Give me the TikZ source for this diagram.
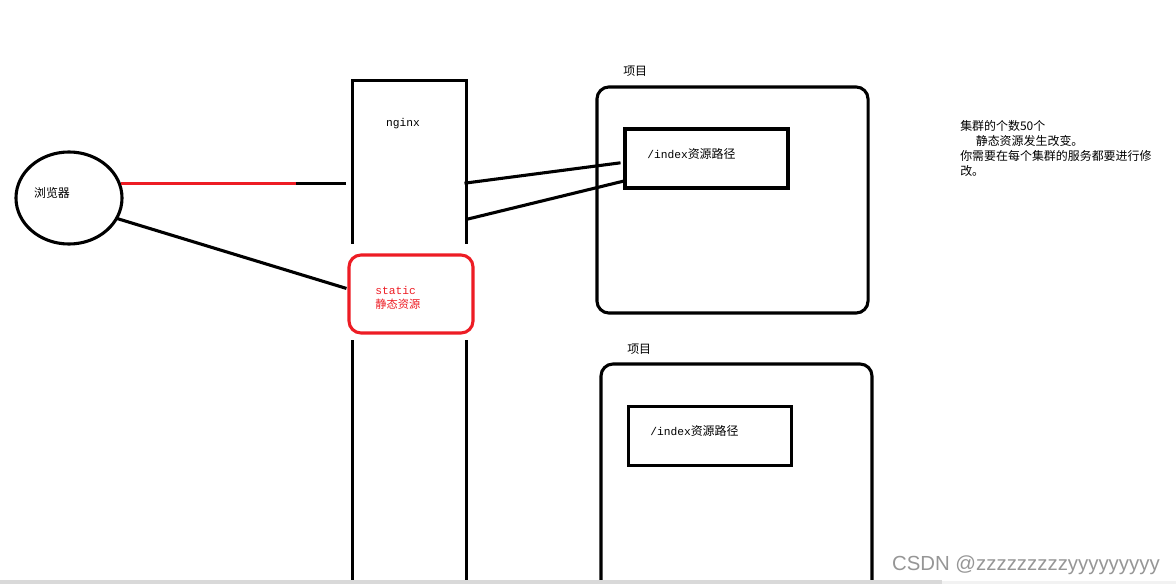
\documentclass[tikz,border=0pt]{standalone}
\usepackage{fontspec}
\setmainfont{Noto Sans CJK SC}
\setmonofont{Liberation Mono}
\newfontfamily\wmfont{Liberation Sans}
\usepackage{tikz}
\usetikzlibrary{shapes.geometric}
\definecolor{SketchRed}{RGB}{237,28,36}
\definecolor{MarkGray}{RGB}{150,150,150}

\begin{document}
\begin{tikzpicture}[x=0.025cm, y=-0.025cm,
  wire/.style={line width=2.2pt, black, line cap=rect},
  redwire/.style={line width=2.2pt, SketchRed},
  label/.style={font=\fontsize{8.5}{10.6}\selectfont, inner sep=0pt},
  codelabel/.style={font=\ttfamily\fontsize{8}{10}\selectfont, inner sep=0pt},
  projbox/.style={draw, line width=2.2pt, rounded corners=0.3cm, minimum width=6.775cm, minimum height=5.65cm},
  pathbox/.style={draw, line width=2.4pt, minimum width=4.075cm, minimum height=1.475cm},
  staticbox/.style={draw=SketchRed, line width=2.2pt, rounded corners=0.3cm, minimum width=3.1cm, minimum height=1.95cm}
]
\useasboundingbox (0,0) rectangle (1176,584);

% Browser (left)
\node[ellipse, draw, line width=2.2pt, minimum width=2.65cm, minimum height=2.3cm] (browser) at (69,198) {};
\node[label] (browsertext) at (52,193) {浏览器};

% nginx column
\draw[wire] (352.3,242) -- (352.3,80.3) -- (466.3,80.3) -- (466.3,242);
\draw[wire] (352.3,342) -- (352.3,584);
\draw[wire] (466.3,342) -- (466.3,584);
\node[codelabel] (nginx) at (403,124) {nginx};
\node[staticbox] (static) at (411,294) {};
\node[codelabel, align=left, text=SketchRed, anchor=west] (statictext) at (375,298) {static\\\rmfamily 静态资源};

\coordinate (redend) at (298,183.3);
\coordinate (nginxin) at (344,183.3);
\coordinate (nginxout1) at (466,183);
\coordinate (nginxout2) at (468,219);
\coordinate (staticin) at (345,288);
\coordinate (pathin1) at (619,163);
\coordinate (pathin2) at (624,181);

\draw[redwire] (browser.16 |- redend) -- (redend);
\draw[wire] (redend) -- (nginxin);
\draw[wire] (browser.-23) -- (staticin);

% Projects (right)
\node[label, anchor=west] (proj1label) at (623,71) {项目};
\node[projbox] (proj1) at (732.5,200) {};
\node[pathbox] (path1) at (706.5,158.5) {};
\node[codelabel, anchor=west] (path1text) at (647,154) {/index\rmfamily\fontsize{8.5}{10}\selectfont 资源路径};

\draw[wire] (nginxout1) -- (pathin1);
\draw[wire] (nginxout2) -- (pathin2);

\node[label, anchor=west] (proj2label) at (627,349) {项目};
\draw[wire, rounded corners=0.3cm] (601,584) -- (601,364) -- (872,364) -- (872,584);
\node[pathbox] (path2) at (710,436) {};
\node[codelabel, anchor=west] (path2text) at (650,431) {/index\rmfamily\fontsize{8.5}{10}\selectfont 资源路径};

% Note
\node[label, anchor=north west, align=left] (note) at (960,120) {集群的个数50个\\\hspace{1.3em}静态资源发生改变。\\你需要在每个集群的服务都要进行修\\改。};

\node[font=\wmfont\fontsize{14.5}{16}\selectfont, text=MarkGray, anchor=east, inner sep=0pt] (watermark) at (1160,565) {CSDN @zzzzzzzzzyyyyyyyyy};
\fill[gray!30] (0,580) rectangle (942,584);
\fill[gray!10] (942,581) rectangle (1176,584);
\end{tikzpicture}
\end{document}
